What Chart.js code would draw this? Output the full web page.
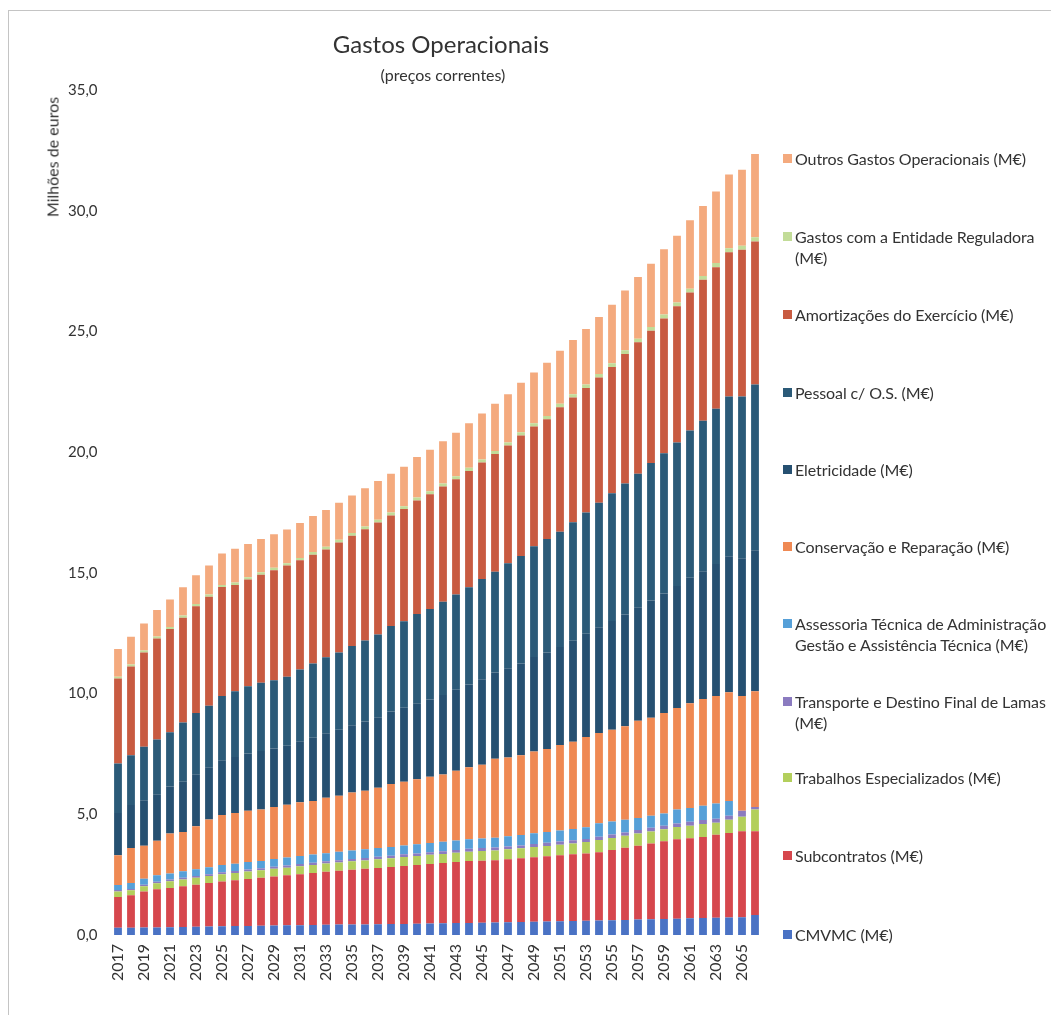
<!DOCTYPE html>
<html><head><meta charset="utf-8">
<script src="https://cdn.jsdelivr.net/npm/chart.js@4"></script>
<style>
html,body{margin:0;padding:0;background:#fff;}
#wrap{position:relative;width:1051px;height:1015px;overflow:hidden;font-family:Lato,"Open Sans",sans-serif;color:#333;background:#fff;}
#frame{position:absolute;left:8px;top:10px;width:1100px;height:1100px;border-left:1px solid #c4c4c4;border-top:1px solid #c4c4c4;}
canvas{position:absolute;left:0;top:0;}
#title{position:absolute;left:241px;width:400px;top:30px;text-align:center;font-size:24px;line-height:28px;}
#subtitle{position:absolute;left:243px;width:400px;top:65px;text-align:center;font-size:16px;line-height:20px;}
#ytitle{position:absolute;left:52px;top:157px;transform:translate(-50%,-50%) rotate(-90deg);font-size:16px;white-space:nowrap;}
.leg{position:absolute;left:783px;font-size:16px;line-height:21px;white-space:nowrap;color:#333;letter-spacing:-0.1px;}
.leg .sw{position:absolute;left:0;top:6px;width:9px;height:9px;}
.leg .tx{margin-left:12px;}
</style></head>
<body>
<div id="wrap">
<div id="frame"></div>
<canvas id="c" width="1051" height="1015"></canvas>
<div id="title">Gastos Operacionais</div>
<div id="subtitle">(preços correntes)</div>
<div id="ytitle">Milhões de euros</div>
<div id="legend"></div>
</div>
<script>
const years = ['2017','2018','2019','2020','2021','2022','2023','2024','2025','2026','2027','2028','2029','2030','2031','2032','2033','2034','2035','2036','2037','2038','2039','2040','2041','2042','2043','2044','2045','2046','2047','2048','2049','2050','2051','2052','2053','2054','2055','2056','2057','2058','2059','2060','2061','2062','2063','2064','2065','2066'];

const cmvmc = [0.30,0.30,0.31,0.31,0.32,0.33,0.34,0.35,0.36,0.37,0.37,0.38,0.39,0.40,0.40,0.41,0.42,0.43,0.43,0.44,0.45,0.46,0.46,0.47,0.48,0.49,0.50,0.50,0.51,0.52,0.53,0.54,0.55,0.56,0.57,0.58,0.59,0.60,0.61,0.62,0.64,0.65,0.66,0.67,0.69,0.70,0.71,0.73,0.74,0.83];
const subcontratos = [1.27,1.35,1.49,1.59,1.63,1.69,1.74,1.80,1.86,1.90,1.95,1.99,2.03,2.07,2.12,2.16,2.20,2.23,2.27,2.30,2.33,2.36,2.40,2.43,2.46,2.49,2.52,2.56,2.57,2.58,2.61,2.64,2.67,2.70,2.73,2.76,2.79,2.83,2.91,2.99,3.06,3.14,3.22,3.30,3.32,3.36,3.44,3.49,3.56,3.47];
const trabalhos = [0.23,0.20,0.22,0.24,0.28,0.28,0.29,0.29,0.30,0.30,0.31,0.31,0.32,0.32,0.33,0.33,0.34,0.34,0.35,0.35,0.36,0.36,0.37,0.37,0.38,0.38,0.39,0.39,0.40,0.40,0.41,0.41,0.42,0.43,0.44,0.45,0.47,0.50,0.50,0.50,0.50,0.50,0.50,0.50,0.52,0.54,0.50,0.55,0.60,0.90];
const transporte = [0.06,0.06,0.06,0.07,0.07,0.07,0.07,0.08,0.08,0.08,0.08,0.08,0.09,0.09,0.09,0.09,0.09,0.10,0.10,0.10,0.10,0.10,0.11,0.11,0.11,0.11,0.11,0.12,0.12,0.12,0.12,0.12,0.13,0.13,0.13,0.13,0.13,0.14,0.14,0.14,0.15,0.15,0.15,0.15,0.16,0.16,0.16,0.17,0.25,0.10];
const assessoria = [0.21,0.24,0.25,0.26,0.25,0.27,0.28,0.29,0.30,0.30,0.31,0.31,0.32,0.33,0.33,0.34,0.34,0.35,0.35,0.36,0.36,0.37,0.37,0.38,0.38,0.39,0.39,0.40,0.40,0.41,0.42,0.43,0.44,0.45,0.46,0.47,0.48,0.56,0.54,0.52,0.50,0.50,0.50,0.58,0.57,0.59,0.64,0.61,0.00,0.00];
const conservacao = [1.23,1.45,1.37,1.43,1.65,1.63,1.78,1.97,2.07,2.10,2.13,2.13,2.15,2.19,2.23,2.22,2.29,2.32,2.40,2.42,2.50,2.60,2.64,2.69,2.74,2.79,2.89,2.98,3.05,3.27,3.26,3.31,3.39,3.43,3.54,3.61,3.74,3.74,3.80,3.88,4.02,4.06,4.17,4.20,4.34,4.42,4.45,4.50,4.75,4.80];
const eletricidade = [1.75,1.78,1.88,1.93,1.95,2.08,2.16,2.17,2.27,2.32,2.37,2.42,2.42,2.44,2.53,2.62,2.68,2.73,2.79,2.87,2.92,3.01,3.06,3.15,3.20,3.29,3.36,3.43,3.54,3.57,3.70,3.80,3.91,4.00,4.06,4.19,4.28,4.38,4.51,4.62,4.71,4.85,4.95,5.06,5.20,5.30,5.47,5.64,5.70,5.84];
const pessoal = [2.05,2.07,2.22,2.27,2.25,2.45,2.54,2.55,2.66,2.73,2.78,2.83,2.83,2.86,2.97,3.08,3.14,3.20,3.28,3.36,3.43,3.54,3.59,3.70,3.75,3.86,3.94,4.02,4.16,4.18,4.35,4.45,4.59,4.70,4.77,4.91,5.02,5.15,5.29,5.43,5.52,5.70,5.80,5.94,6.10,6.23,6.43,6.61,6.70,6.86];
const amortizacoes = [3.52,3.67,3.90,4.18,4.27,4.34,4.42,4.51,4.51,4.40,4.42,4.47,4.56,4.60,4.52,4.50,4.47,4.56,4.57,4.61,4.64,4.58,4.64,4.70,4.76,4.78,4.78,4.82,4.82,4.87,4.87,4.99,4.96,4.96,5.16,5.16,5.16,5.19,5.23,5.37,5.45,5.48,5.59,5.64,5.71,5.84,5.86,5.98,6.08,5.93];
const reguladora = [0.08,0.08,0.08,0.08,0.09,0.09,0.09,0.09,0.09,0.10,0.10,0.10,0.10,0.10,0.10,0.11,0.11,0.11,0.11,0.11,0.11,0.12,0.12,0.12,0.12,0.12,0.12,0.13,0.13,0.13,0.13,0.13,0.14,0.14,0.14,0.14,0.14,0.15,0.15,0.15,0.15,0.15,0.16,0.16,0.16,0.16,0.17,0.17,0.17,0.17];
const outros = [1.15,1.15,1.12,1.10,1.14,1.17,1.19,1.20,1.30,1.40,1.38,1.38,1.39,1.40,1.45,1.50,1.52,1.53,1.55,1.58,1.60,1.60,1.64,1.68,1.72,1.75,1.80,1.85,1.90,1.95,2.00,2.05,2.10,2.20,2.20,2.25,2.30,2.36,2.42,2.48,2.55,2.62,2.70,2.76,2.83,2.90,2.97,3.05,3.15,3.45];

const yTicks = [0,5,10,15,20,25,30,35];

// stack order bottom -> top
const series = [
  {label:'CMVMC (M€)', lines:['CMVMC (M€)'], data:cmvmc, color:'#4a72c4'},
  {label:'Subcontratos (M€)', lines:['Subcontratos (M€)'], data:subcontratos, color:'#d6474d'},
  {label:'Trabalhos Especializados (M€)', lines:['Trabalhos Especializados (M€)'], data:trabalhos, color:'#b3cf5c'},
  {label:'Transporte e Destino Final de Lamas (M€)', lines:['Transporte e Destino Final de Lamas','(M€)'], data:transporte, color:'#8b7bc0'},
  {label:'Assessoria Técnica de Administração Gestão e Assistência Técnica (M€)', lines:['Assessoria Técnica de Administração','Gestão e Assistência Técnica (M€)'], data:assessoria, color:'#56a0d8'},
  {label:'Conservação e Reparação (M€)', lines:['Conservação e Reparação (M€)'], data:conservacao, color:'#ef8953'},
  {label:'Eletricidade (M€)', lines:['Eletricidade (M€)'], data:eletricidade, color:'#265071'},
  {label:'Pessoal c/ O.S. (M€)', lines:['Pessoal c/ O.S. (M€)'], data:pessoal, color:'#2b5a78'},
  {label:'Amortizações do Exercício (M€)', lines:['Amortizações do Exercício (M€)'], data:amortizacoes, color:'#c85b41'},
  {label:'Gastos com a Entidade Reguladora (M€)', lines:['Gastos com a Entidade Reguladora','(M€)'], data:reguladora, color:'#c2dc98'},
  {label:'Outros Gastos Operacionais (M€)', lines:['Outros Gastos Operacionais (M€)'], data:outros, color:'#f4aa7e'}
];

const chart = new Chart(document.getElementById('c'), {
  type:'bar',
  data:{
    labels:years,
    datasets:series.map(s=>({label:s.label,data:s.data,backgroundColor:s.color,borderWidth:0,categoryPercentage:1,barPercentage:0.6}))
  },
  options:{
    responsive:false,
    animation:false,
    layout:{padding:{left:0,right:289.5,top:90,bottom:0}},
    plugins:{legend:{display:false},tooltip:{enabled:false},title:{display:false}},
    scales:{
      x:{
        stacked:true,
        grid:{display:false,drawTicks:false},
        border:{display:false},
        afterFit:(s)=>{s.height=80;},
        ticks:{
          autoSkip:false,minRotation:90,maxRotation:90,padding:9,
          color:'#333',font:{family:'Lato',size:16},
          callback:function(v,i){return i%2===0?this.getLabelForValue(v):'';}
        }
      },
      y:{
        stacked:true,min:0,max:35,
        grid:{display:false,drawTicks:false},
        border:{display:false},
        afterFit:(s)=>{s.width=111.5;},
        afterBuildTicks:(s)=>{s.ticks=yTicks.map(v=>({value:v}));},
        ticks:{
          padding:14,color:'#333',font:{family:'Lato',size:15},
          callback:(v)=>v.toFixed(1).replace('.',',')
        }
      }
    }
  }
});

// legend (reverse order, as in the reference)
const legendCenters = [934,855,777,701,623,546,469,392,314,236,158];
const lg = document.getElementById('legend');
series.forEach((s,i)=>{
  const d = document.createElement('div');
  d.className='leg';
  d.style.top=(legendCenters[i]-10.5)+'px';
  const sw=document.createElement('span');sw.className='sw';sw.style.background=s.color;
  const tx=document.createElement('div');tx.className='tx';tx.innerHTML=s.lines.join('<br>');
  d.appendChild(sw);d.appendChild(tx);lg.appendChild(d);
});
</script>
</body></html>
